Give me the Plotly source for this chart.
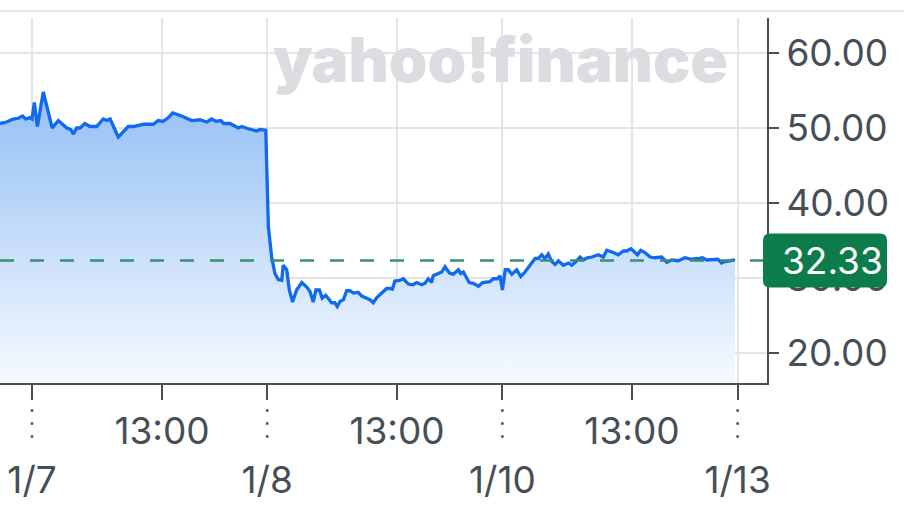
import plotly.graph_objects as go

# Position along the 5-day session axis (0 = 1/7 open, 1 = 1/8 open, 2 = 1/10 open, 3 = 1/13 open)
session_pos = [
    -0.136, -0.108, -0.080, -0.058, -0.040, -0.026, -0.009, 0.000, 0.010, 0.023,
    0.048, 0.086, 0.112, 0.148, 0.165, 0.176, 0.190, 0.204, 0.225, 0.247,
    0.275, 0.303, 0.318, 0.332, 0.367, 0.409, 0.431, 0.473, 0.516, 0.537,
    0.558, 0.580, 0.598, 0.636, 0.679, 0.714, 0.743, 0.764, 0.782, 0.802,
    0.816, 0.842, 0.877, 0.892, 0.920, 0.955, 0.969, 0.983, 0.994,
    1.005, 1.019, 1.033, 1.047, 1.062, 1.068, 1.083, 1.094, 1.108, 1.125,
    1.147, 1.168, 1.182, 1.196, 1.207, 1.222, 1.234, 1.249, 1.274, 1.288,
    1.298, 1.310, 1.324, 1.338, 1.352, 1.366, 1.387, 1.402, 1.423, 1.437,
    1.451, 1.466, 1.487, 1.508, 1.522, 1.532, 1.543, 1.565, 1.579, 1.600,
    1.619, 1.636, 1.657, 1.671, 1.685, 1.699, 1.706, 1.727, 1.742, 1.756,
    1.774, 1.791, 1.813, 1.823, 1.834, 1.859, 1.876, 1.898, 1.916, 1.947,
    1.961, 1.978, 1.990,
    2.000, 2.012, 2.025, 2.040, 2.061, 2.078, 2.096, 2.117, 2.139, 2.153,
    2.167, 2.181, 2.195, 2.210, 2.224, 2.238, 2.259, 2.281, 2.295, 2.313,
    2.330, 2.344, 2.361, 2.380, 2.408, 2.429, 2.444, 2.472, 2.493, 2.514,
    2.528, 2.547, 2.561, 2.574, 2.588, 2.606, 2.628, 2.649, 2.677, 2.699,
    2.720, 2.748, 2.776, 2.805, 2.833, 2.850, 2.869, 2.896, 2.917, 2.932,
    2.946, 2.968, 2.982, 2.989,
]
price = [
    50.6, 50.8, 51.2, 51.3, 51.6, 51.2, 51.4, 51.2, 53.4, 50.2,
    54.8, 50.0, 51.0, 50.0, 49.8, 49.2, 50.0, 50.0, 50.6, 50.2,
    50.2, 51.2, 51.0, 51.2, 48.8, 50.2, 50.2, 50.5, 50.5, 51.0,
    50.9, 51.4, 52.0, 51.6, 51.0, 51.1, 50.8, 51.2, 50.9, 51.0,
    50.6, 50.6, 50.0, 50.2, 49.9, 49.6, 49.8, 49.7, 49.7,
    36.8, 32.8, 30.6, 29.8, 29.7, 31.7, 31.1, 28.4, 26.8, 28.4,
    29.4, 28.8, 28.2, 26.8, 28.4, 28.4, 27.3, 27.7, 26.7, 26.7,
    26.2, 26.9, 27.1, 28.3, 28.3, 28.0, 28.1, 27.6, 27.3, 27.1,
    26.7, 27.4, 28.0, 28.6, 28.6, 28.5, 29.6, 29.7, 29.9, 29.2,
    29.1, 29.4, 29.1, 29.3, 29.9, 29.4, 30.3, 30.6, 30.8, 31.5,
    30.7, 30.5, 31.1, 30.6, 30.8, 29.4, 29.3, 28.9, 29.4, 29.5,
    29.9, 29.9, 30.3,
    28.4, 31.1, 31.1, 30.5, 31.1, 30.2, 30.8, 31.7, 32.6, 32.6,
    33.1, 32.6, 33.2, 32.2, 31.8, 32.3, 31.7, 32.0, 31.7, 32.2,
    32.8, 32.4, 32.7, 32.8, 33.1, 32.8, 33.7, 33.4, 33.1, 33.6,
    33.6, 33.9, 33.4, 33.1, 33.7, 33.4, 32.8, 32.7, 32.8, 32.1,
    32.4, 32.3, 32.7, 32.5, 32.6, 32.7, 32.4, 32.5, 32.5, 32.0,
    32.2, 32.3, 32.4, 32.33,
]
last_price = 32.33

day_ticks = [0, 1, 2, 3]
day_labels = ["1/7", "1/8", "1/10", "1/13"]
noon_ticks = [0.553, 1.552, 2.551]
noon_labels = ["13:00", "13:00", "13:00"]
y_ticks = [20, 30, 40, 50, 60]

tickvals = sorted(day_ticks + noon_ticks)
ticktext = []
for v in tickvals:
    if v in day_ticks:
        ticktext.append("<br>" + day_labels[day_ticks.index(v)])
    else:
        ticktext.append(noon_labels[noon_ticks.index(v)])

AX = "#464e57"
GRID = "#e3e4e7"
FONT = "Inter, Liberation Sans, sans-serif"

fig = go.Figure()
fig.add_trace(go.Scatter(
    x=session_pos, y=price, mode="lines",
    line=dict(color="#1069ee", width=3.3),
    fill="tozeroy",
    fillgradient=dict(type="vertical", start=16, stop=55,
                      colorscale=[[0, "#f6faff"], [1, "#93bff5"]]),
    hoverinfo="skip", showlegend=False,
))

fig.update_layout(
    width=904, height=505,
    margin=dict(l=0, r=137, t=18, b=122, autoexpand=False),
    paper_bgcolor="white", plot_bgcolor="white",
    font=dict(family=FONT, size=37, color=AX),
    xaxis=dict(
        range=[-0.136, 3.125], tickvals=tickvals, ticktext=ticktext,
        showgrid=True, gridcolor=GRID, gridwidth=2,
        ticks="outside", ticklen=15, tickwidth=2, tickcolor=AX,
        showline=True, linecolor=AX, linewidth=2, zeroline=False,
        tickfont=dict(family=FONT, size=37, color=AX),
        automargin=False, fixedrange=True,
    ),
    yaxis=dict(
        range=[16, 64.67], side="right", tickvals=y_ticks, tickformat=".2f",
        showgrid=True, gridcolor=GRID, gridwidth=2,
        ticks="outside", ticklen=10, tickwidth=2, tickcolor=AX,
        showline=True, linecolor=AX, linewidth=2, zeroline=False,
        tickfont=dict(family=FONT, size=37, color=AX),
        automargin=False, fixedrange=True,
    ),
)

# top border line
fig.add_shape(type="line", xref="paper", yref="paper", x0=0, x1=1.18,
              y0=1.019, y1=1.019, line=dict(color=GRID, width=2), layer="above")

# dotted day-boundary markers below the axis
for d in day_ticks:
    fig.add_shape(type="line", xref="x", yref="paper", x0=d, x1=d,
                  y0=-0.072, y1=-0.156,
                  line=dict(color=AX, width=2.5, dash="2.5px,10.5px"), layer="above")

# last price dashed line
fig.add_shape(type="line", xref="paper", yref="y", x0=0, x1=1,
              y0=last_price, y1=last_price,
              line=dict(color="#3b8f72", width=2.5, dash="14px,16px"), layer="above")

# last price badge
fig.add_shape(type="path", xref="paper", yref="y", xsizemode="pixel", ysizemode="pixel",
              xanchor=1, yanchor=last_price,
              path="M 3,-27 L 113,-27 Q 120,-27 120,-20 L 120,20 Q 120,27 113,27 "
                   "L 3,27 Q -4,27 -4,20 L -4,-20 Q -4,-27 3,-27 Z",
              fillcolor="#0c7c4c", line=dict(width=0), layer="above")
fig.add_annotation(x=1, xref="paper", y=last_price, yref="y", xanchor="left",
                   yanchor="middle", xshift=13, showarrow=False,
                   text=f"{last_price:.2f}",
                   font=dict(family=FONT, size=37, color="white"))

# watermark
fig.add_annotation(x=0.652, xref="paper", y=0.885, yref="paper", showarrow=False,
                   text="yahoo!finance", xanchor="center", yanchor="middle",
                   font=dict(family=FONT, size=62, color="#dcdde1", weight=900))

fig.write_html(
    "out.html",
    config={"displayModeBar": False},
    post_script="document.body.style.margin='0';document.body.style.overflow='hidden';",
)
